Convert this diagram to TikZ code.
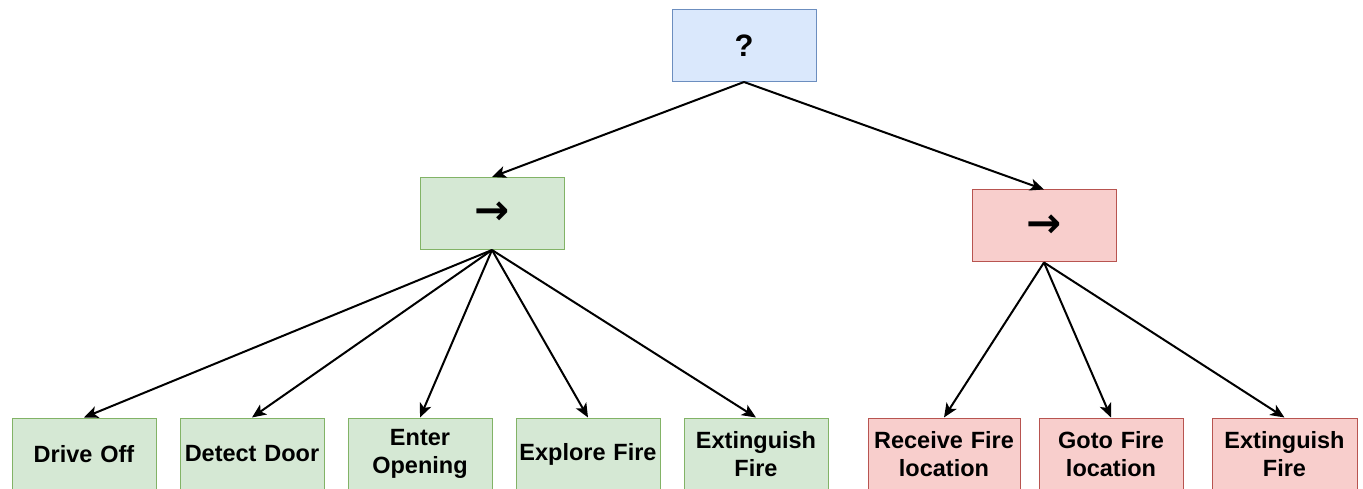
\documentclass[tikz,border=0pt]{standalone}
\usepackage{fontspec}
\setmainfont{Liberation Sans}
\newfontfamily\arrowfont{DejaVu Sans}
\usetikzlibrary{arrows.meta}
\definecolor{bluefill}{HTML}{DAE8FC}
\definecolor{blueline}{HTML}{6C8EBF}
\definecolor{greenfill}{HTML}{D5E8D4}
\definecolor{greenline}{HTML}{82B366}
\definecolor{redfill}{HTML}{F8CECC}
\definecolor{redline}{HTML}{B85450}
\tikzset{
  box/.style={draw, line width=1pt, minimum width=144pt, minimum height=72pt, inner sep=2pt,
    align=center, font=\fontsize{23.5}{28}\selectfont\bfseries, text width=140pt},
  bluebox/.style={box, fill=bluefill, draw=blueline},
  greenbox/.style={box, fill=greenfill, draw=greenline},
  redbox/.style={box, fill=redfill, draw=redline},
  conn/.style={line width=2pt, -{Stealth[length=14pt,width=12pt,inset=3.5pt]}},
  arrowsym/.style={font=\fontsize{42}{42}\selectfont\arrowfont\bfseries},
  qsym/.style={font=\fontsize{31}{31}\selectfont\bfseries}
}
\begin{document}
\begin{tikzpicture}[x=1pt,y=-1pt]
\useasboundingbox (0,0) rectangle (1363,489);
\begin{scope}
\clip (0,0) rectangle (1363,489);
\node[bluebox, qsym] (root) at (744,45.5) {?};
\node[greenbox, arrowsym] (seqA) at (492,213.5) {→};
\node[redbox, arrowsym] (seqB) at (1044,226) {→};
\node[greenbox] (a1) at (84,454) {\raisebox{-2pt}{Drive Off}};
\node[greenbox] (a2) at (252,454) {\raisebox{-2pt}{Detect Door}};
\node[greenbox] (a3) at (420,454) {Enter\\Opening};
\node[greenbox] (a4) at (588,454) {\raisebox{-2pt}{Explore Fire}};
\node[greenbox] (a5) at (756,454) {Extinguish\\Fire};
\node[redbox, minimum width=152pt, text width=148pt] (b1) at (944,454) {Receive Fire\\location};
\node[redbox] (b2) at (1111,454) {Goto Fire\\location};
\node[redbox, minimum width=145pt] (b3) at (1284.5,454) {Extinguish\\Fire};
\end{scope}
\draw[conn] (root.south) -- (seqA.north);
\draw[conn] (root.south) -- (seqB.north);
\foreach \t in {a1,a2,a3,a4,a5} \draw[conn] (seqA.south) -- (\t.north);
\foreach \t in {b1,b2,b3} \draw[conn] (seqB.south) -- (\t.north);
\end{tikzpicture}
\end{document}
